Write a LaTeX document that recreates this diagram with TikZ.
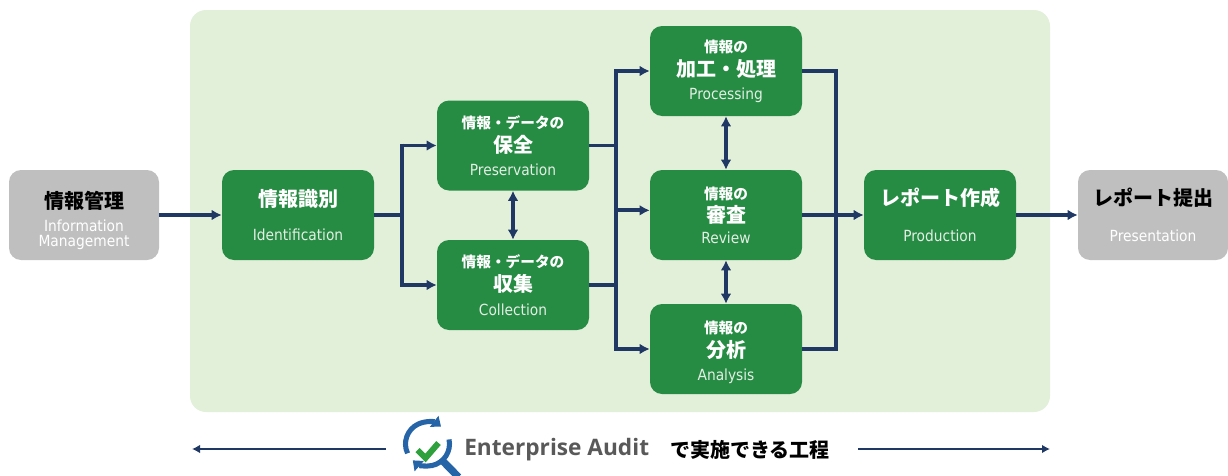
\documentclass[tikz,border=0pt]{standalone}
\usepackage{fontspec}
\setmainfont{DejaVu Sans Condensed}
\newfontfamily\jp{Noto Sans CJK JP}
\newfontfamily\ea{Open Sans}
\usetikzlibrary{arrows.meta}
\definecolor{panelgreen}{RGB}{226,240,217}
\definecolor{stagegreen}{RGB}{38,140,68}
\definecolor{outergray}{RGB}{191,191,191}
\definecolor{flownavy}{RGB}{32,56,100}
\definecolor{subwhite}{RGB}{228,238,228}
\definecolor{logoblue}{RGB}{38,100,168}
\definecolor{checkgreen}{RGB}{46,160,60}
\definecolor{audgray}{RGB}{89,89,89}
\newcommand\ttl[1]{{\jp\bfseries\fontsize{15}{15}\selectfont #1}}
\newcommand\pre[1]{{\jp\bfseries\fontsize{11}{11}\selectfont #1}}
\newcommand\eng[1]{{\fontsize{11.5}{11.5}\selectfont #1}}

\begin{document}
\begin{tikzpicture}[x=0.75pt,y=-0.75pt,
	stage/.style={fill=stagegreen, rounded corners=9pt, minimum width=114pt, minimum height=67.5pt, text=white, align=center, inner sep=0pt, font=\fontsize{11}{14}\selectfont},
	outer/.style={stage, fill=outergray, text=black, minimum width=112.5pt},
	flow/.style={draw=flownavy, line width=2.8pt},
	arr/.style={flow, -{Latex[length=7.5pt,width=8pt]}},
	both/.style={flow, {Latex[length=7.5pt,width=8pt]}-{Latex[length=7.5pt,width=8pt]}},
	]
	\useasboundingbox (0,0) rectangle (1228,475);
	\fill[panelgreen, rounded corners=12pt] (190,10) rectangle (1050,412);

	\node[outer] (info) at (84,215) {\rule{0pt}{21pt}\ttl{情報管理}\\[3pt]{\color{white}\eng{Information}}\\[-2.5pt]{\color{white}\eng{Management}}};
	\node[stage] (idn) at (298,215) {\ttl{情報識別}\\[12pt]{\color{subwhite}\eng{Identification}}};
	\node[stage] (pres) at (513,145.5) {\pre{情報・データの}\\[4pt]\ttl{保全}\\[3pt]{\color{subwhite}\eng{Preservation}}};
	\node[stage] (coll) at (513,285) {\pre{情報・データの}\\[4pt]\ttl{収集}\\[4pt]{\color{subwhite}\eng{Collection}}};
	\node[stage] (proc) at (726,71) {\pre{情報の}\\[4pt]\ttl{加工・処理}\\[3pt]{\color{subwhite}\eng{Processing}}};
	\node[stage] (rev) at (726,215) {\pre{情報の}\\[3.2pt]\ttl{審査}\\[1.8pt]{\color{subwhite}\eng{Review}}};
	\node[stage] (ana) at (726,349) {\rule{0pt}{14pt}\pre{情報の}\\[4pt]\ttl{分析}\\[3.5pt]{\color{subwhite}\eng{Analysis}}};
	\node[stage] (prod) at (940,215) {\ttl{レポート作成}\\[12.5pt]{\color{subwhite}\eng{Production}}};
	\node[outer] (repo) at (1153,215) {\ttl{レポート提出}\\[12.5pt]{\color{white}\eng{Presentation}}};

	\coordinate (j1) at (402,0);
	\coordinate (j2) at (616,0);
	\coordinate (j3) at (836,0);

	\draw[arr] (info) -- (idn);
	\draw[flow] (idn.east) -- (idn.east -| j1);
	\draw[flow] ([yshift=1.4pt]pres -| j1) -- ([yshift=-1.4pt]coll -| j1);
	\draw[arr] (pres -| j1) -- (pres);
	\draw[arr] (coll -| j1) -- (coll);
	\draw[both] (pres) -- (coll);

	\draw[flow] (pres.east) -- (pres.east -| j2);
	\draw[flow] (coll.east) -- (coll.east -| j2);
	\draw[flow] ([yshift=1.4pt]proc -| j2) -- ([yshift=-1.4pt]ana -| j2);
	\draw[arr] (proc -| j2) -- (proc);
	\draw[arr] ([yshift=3.5pt]rev.west -| j2) -- ([yshift=3.5pt]rev.west);
	\draw[arr] (ana -| j2) -- (ana);
	\draw[both] (proc) -- (rev);
	\draw[both] (rev) -- (ana);

	\draw[flow] (proc.east) -- (proc.east -| j3);
	\draw[flow] (ana.east) -- (ana.east -| j3);
	\draw[flow] ([yshift=1.4pt]proc -| j3) -- ([yshift=-1.4pt]ana -| j3);
	\draw[arr] (rev) -- (prod);
	\draw[arr] (prod) -- (repo);

	\coordinate (icon) at (427.5,444);
	\begin{scope}[shift={(icon)}, yscale=-1]
		\draw[logoblue, line width=3.8pt, -{Triangle[length=6.5pt,width=10pt]}] (205:22) arc[start angle=205, end angle=52, radius=22];
		\draw[logoblue, line width=3.8pt, -{Triangle[length=6.5pt,width=10pt]}] (12:22) arc[start angle=12, end angle=-132, radius=22];
		\draw[logoblue, line width=5.5pt] (-48:24) -- (31,-33);
		\draw[checkgreen, line width=4.5pt] (-10,-6) -- (-2,-14) -- (11,1);
	\end{scope}
	\node[anchor=west, inner sep=0pt, text=audgray, font=\ea\bfseries\fontsize{17}{17}\selectfont] (aud) at (464,450) {Enterprise Audit};
	\node[anchor=west, inner sep=0pt, font=\jp\bfseries\fontsize{15}{15}\selectfont] (koutei) at (670,450) {で実施できる工程};
	\coordinate (bl) at (192,449);
	\coordinate (br) at (1050,449);
	\draw[flownavy, line width=1.6pt, -{Latex[length=6pt,width=6.5pt]}] (386,449) -- (bl);
	\draw[flownavy, line width=1.6pt, -{Latex[length=6pt,width=6.5pt]}] (858,449) -- (br);
\end{tikzpicture}
\end{document}
